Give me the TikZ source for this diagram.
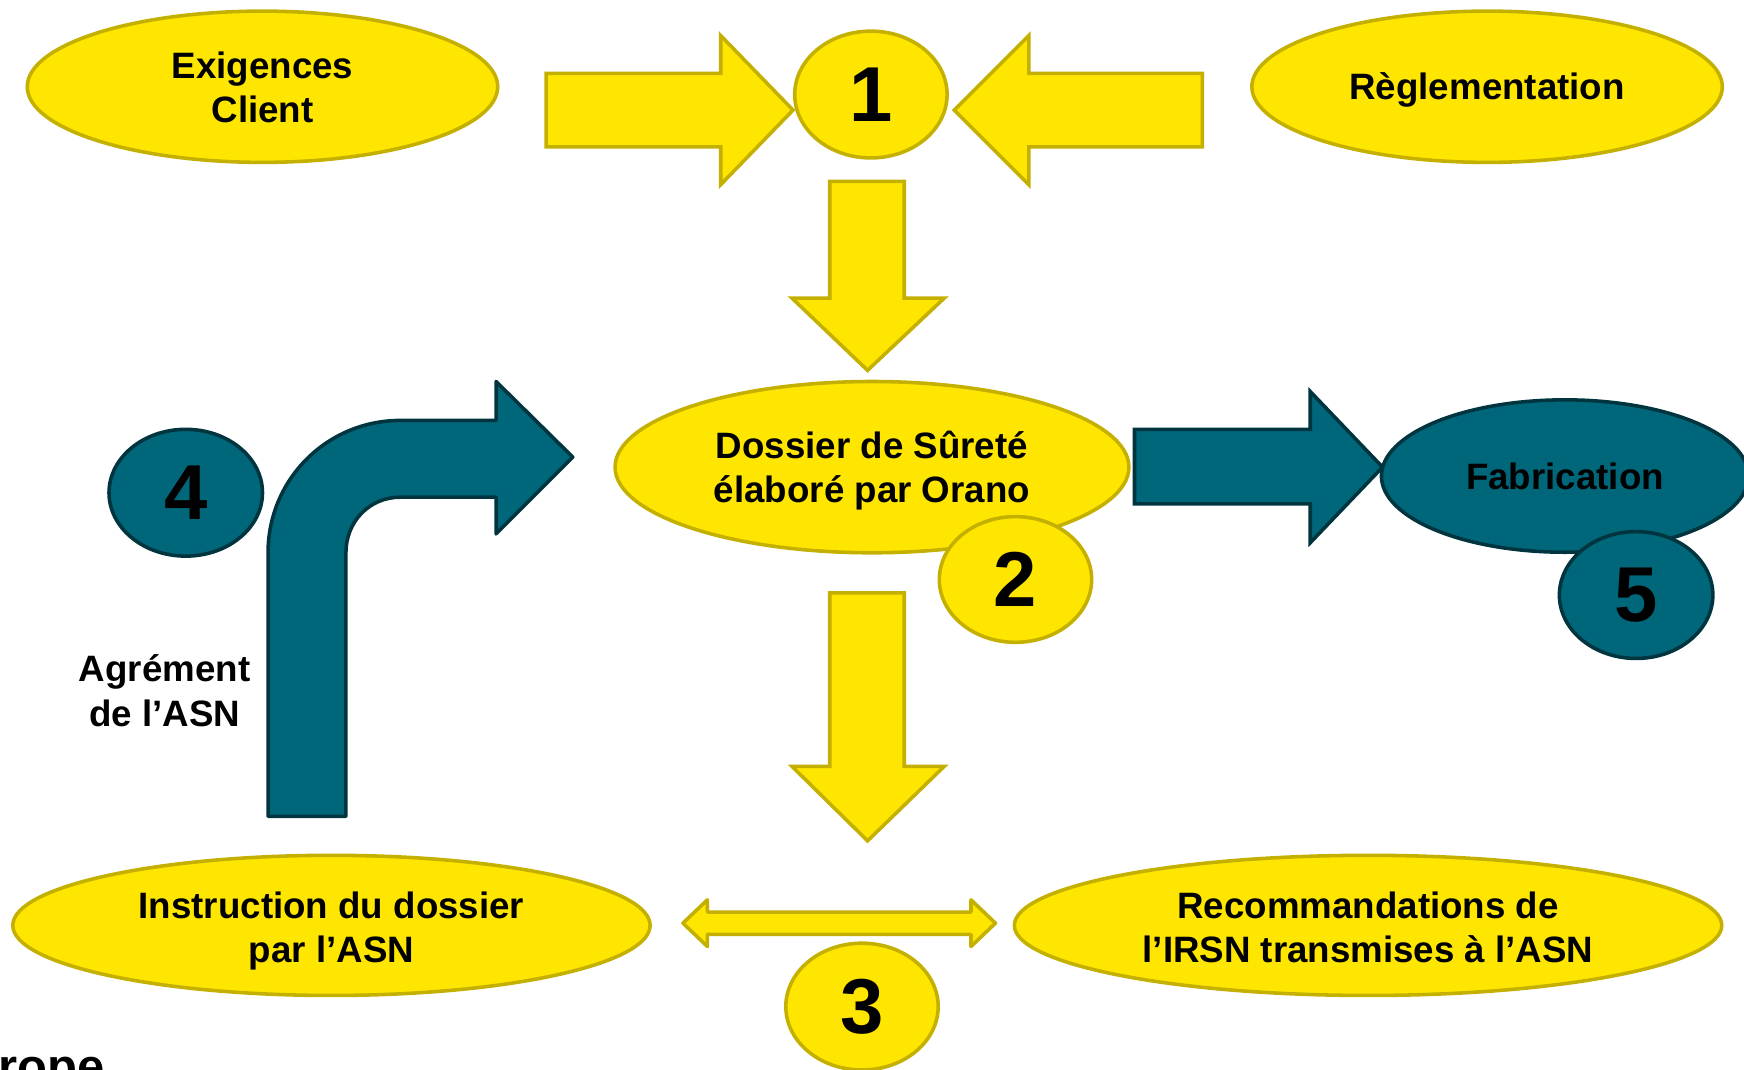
\documentclass[tikz,border=0pt]{standalone}
\usepackage{fontspec}
\setmainfont{Liberation Sans}
\usetikzlibrary{shapes.geometric}
\definecolor{yfill}{HTML}{FFE600}
\definecolor{yline}{HTML}{C4B000}
\definecolor{tfill}{HTML}{006679}
\definecolor{tline}{HTML}{00343F}
\tikzset{
  yel/.style={ellipse, draw=yline, fill=yfill, line width=1.6pt, inner sep=0pt, align=center,
    font=\bfseries\fontsize{16.5}{20}\selectfont},
  teal/.style={ellipse, draw=tline, fill=tfill, line width=1.6pt, inner sep=0pt, align=center,
    font=\bfseries\fontsize{16.5}{20}\selectfont},
  num/.style={font=\bfseries\fontsize{35}{40}\selectfont},
  yarrow/.style={draw=yline, fill=yfill, line width=1.6pt, line join=miter},
  tarrow/.style={draw=tline, fill=tfill, line width=1.6pt, line join=round},
  lbl/.style={align=center, font=\bfseries\fontsize{16.5}{20}\selectfont, inner sep=0pt}
}
\begin{document}
\begin{tikzpicture}[x=0.5pt,y=-0.5pt]
\useasboundingbox (0,0) rectangle (1568,962);
% top row
\node[yel, minimum width=211.5pt, minimum height=68pt,
  label={[lbl,yshift=-0.3pt]center:Exigences\\Client}] (exig) at (236,78) {};
\node[yel, minimum width=211.5pt, minimum height=68pt,
  label={[lbl,yshift=-1.5pt]center:Règlementation}] (regl) at (1337,78) {};
\draw[yarrow] (491,66) -- (648,66) -- (648,32) -- (713,99) -- (648,166) -- (648,132) -- (491,132) -- cycle;
\draw[yarrow] (1081,66) -- (925,66) -- (925,32) -- (858,99) -- (925,166) -- (925,132) -- (1081,132) -- cycle;
\node[yel, minimum width=68.5pt, minimum height=57pt, num] (n1) at (783,85) {1};
% down arrow 1
\draw[yarrow] (746,163) -- (813,163) -- (813,268) -- (849,268) -- (780,333) -- (712,268) -- (746,268) -- cycle;
% dossier
\node[yel, minimum width=231pt, minimum height=77pt,
  label={[lbl,yshift=-1.5pt]center:Dossier de Sûreté\\élaboré par Orano}] (dossier) at (784,420) {};
\node[yel, minimum width=68.5pt, minimum height=56.5pt, num] (n2) at (913,521) {2};
% teal right arrow and fabrication
\draw[tarrow, line join=miter] (1020,386) -- (1178,386) -- (1178,352) -- (1243,420) -- (1178,488) -- (1178,453) -- (1020,453) -- cycle;
\node[teal, minimum width=165pt, minimum height=68.5pt,
  label={[lbl]center:Fabrication}] (fab) at (1407,428) {};
\node[teal, minimum width=69pt, minimum height=57pt, num] (n5) at (1471,535) {5};
% bent arrow
\draw[tarrow] (241,734) -- (241,497) .. controls (241,431) and (294,378) .. (360,378)
  -- (446,378) -- (446,343) -- (515,411) -- (446,480) -- (446,447) -- (360,447)
  .. controls (332,447) and (311,469) .. (311,497) -- (311,734) -- cycle;
\node[teal, minimum width=69pt, minimum height=57pt, num] (n4) at (167,443) {4};
\node[lbl] (agr) at (148,621) {Agrément\\de l’ASN};
% down arrow 2
\draw[yarrow] (746,533) -- (813,533) -- (813,689) -- (849,689) -- (780,756) -- (712,689) -- (746,689) -- cycle;
% bottom row
\node[yel, minimum width=286.5pt, minimum height=63pt,
  label={[lbl,yshift=-2.5pt]center:Instruction du dossier\\par l’ASN}] (instr) at (298,832) {};
\node[yel, minimum width=318pt, minimum height=63pt,
  label={[lbl,yshift=-0.8pt]center:Recommandations de\\l’IRSN transmises à l’ASN}] (recom) at (1230,832) {};
\draw[yarrow, line join=round] (614,830) -- (636,809) -- (636,820) -- (873,820) -- (873,809) -- (895,830)
  -- (873,851) -- (873,840) -- (636,840) -- (636,851) -- cycle;
\node[yel, minimum width=68.5pt, minimum height=57pt, num] (n3) at (775,905) {3};
% cut footer text
\node[anchor=base west, inner sep=0pt, font=\bfseries\fontsize{22}{26}\selectfont] (foot) at (-2,974) {rope};
\end{tikzpicture}
\end{document}
